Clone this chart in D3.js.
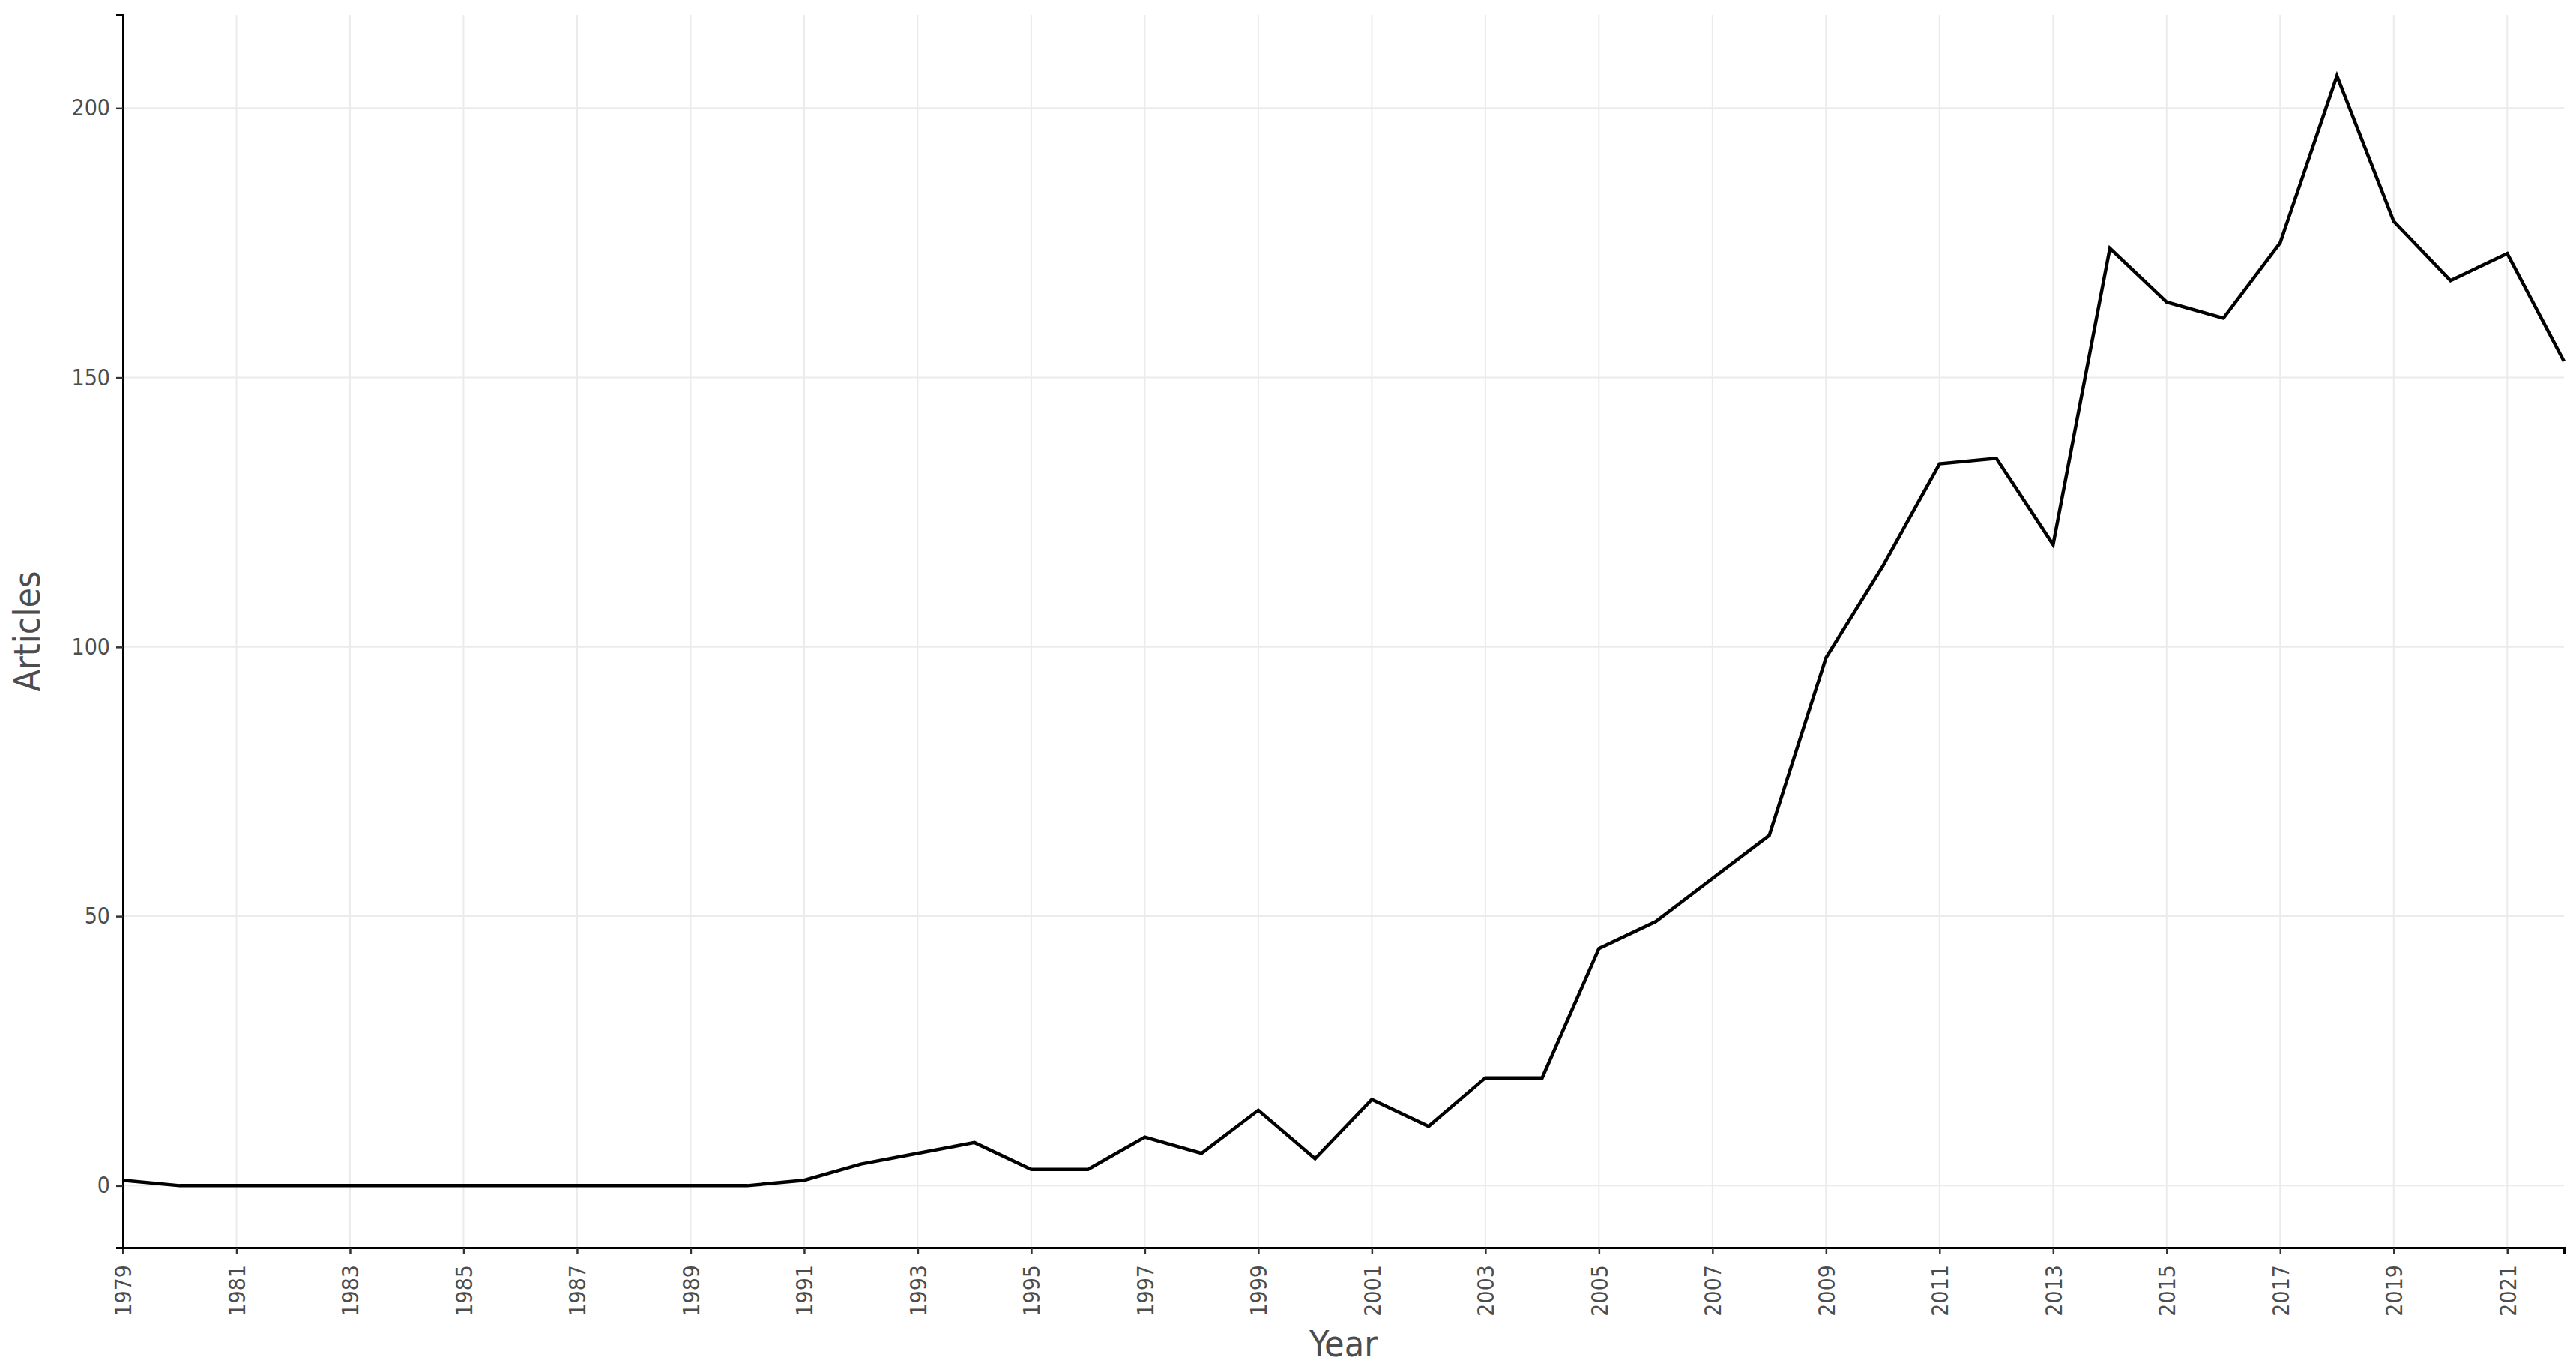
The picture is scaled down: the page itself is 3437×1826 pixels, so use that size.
<!DOCTYPE html>
<html>
<head>
<meta charset="utf-8">
<script src="https://cdn.jsdelivr.net/npm/d3@7"></script>
<style>
  html, body { margin: 0; padding: 0; background: #fff; }
  svg { display: block; }
  text { font-family: "DejaVu Sans Condensed", "DejaVu Sans", sans-serif; font-stretch: condensed; }
</style>
</head>
<body>
<svg id="chart" width="3437" height="1826"></svg>
<script>
const years = [1979,1980,1981,1982,1983,1984,1985,1986,1987,1988,1989,1990,1991,1992,1993,1994,1995,1996,1997,1998,1999,2000,2001,2002,2003,2004,2005,2006,2007,2008,2009,2010,2011,2012,2013,2014,2015,2016,2017,2018,2019,2020,2021,2022];
const articles = [1,0,0,0,0,0,0,0,0,0,0,0,1,4,6,8,3,3,9,6,14,5,16,11,20,20,44,49,57,65,98,115,134,135,119,174,164,161,175,206,179,168,173,153];
const xTickYears = [1979,1981,1983,1985,1987,1989,1991,1993,1995,1997,1999,2001,2003,2005,2007,2009,2011,2013,2015,2017,2019,2021];
const yTickValues = [0,50,100,150,200];
const xTitle = "Year";
const yTitle = "Articles";

const svg = d3.select("#chart");
const plotLeft = 164, plotRight = 3421, plotTop = 20, plotBottom = 1664;

const x = d3.scaleLinear().domain([1979, 2022]).range([plotLeft, plotRight]);
const y = d3.scaleLinear().domain([-11.5, 217.3]).range([plotBottom, plotTop]);

// grid
const grid = svg.append("g");
grid.selectAll("line.v").data(xTickYears).join("line")
  .attr("class", "v")
  .attr("x1", d => x(d)).attr("x2", d => x(d))
  .attr("y1", plotTop).attr("y2", plotBottom)
  .attr("stroke", "#ebebeb").attr("stroke-width", 2);
grid.selectAll("line.h").data(yTickValues).join("line")
  .attr("class", "h")
  .attr("x1", plotLeft).attr("x2", plotRight)
  .attr("y1", d => y(d)).attr("y2", d => y(d))
  .attr("stroke", "#ebebeb").attr("stroke-width", 2);

// line
const line = d3.line().x((d, i) => x(years[i])).y(d => y(d));
svg.append("path").datum(articles)
  .attr("d", line)
  .attr("fill", "none")
  .attr("stroke", "#000")
  .attr("stroke-width", 4.5)
  .attr("stroke-linejoin", "miter");

// x axis
const xAxis = d3.axisBottom(x).tickValues(xTickYears).tickFormat(d3.format("d")).tickSize(9).tickPadding(0);
const gx = svg.append("g").attr("transform", `translate(0,${plotBottom})`).call(xAxis);
gx.select(".domain").attr("stroke", "#000").attr("stroke-width", 3);
gx.selectAll(".tick line").attr("stroke", "#333").attr("stroke-width", 2.5);
gx.selectAll(".tick text")
  .attr("font-size", 30)
  .attr("fill", "#4d4d4d")
  .attr("text-anchor", "end")
  .attr("transform", "rotate(-90)")
  .attr("x", -23)
  .attr("y", 0)
  .attr("dy", "0.36em");

// y axis
const yAxis = d3.axisLeft(y).tickValues(yTickValues).tickSize(9).tickPadding(8);
const gy = svg.append("g").attr("transform", `translate(${plotLeft},0)`).call(yAxis);
gy.select(".domain").attr("stroke", "#000").attr("stroke-width", 3);
gy.selectAll(".tick line").attr("stroke", "#333").attr("stroke-width", 2.5);
gy.selectAll(".tick text").attr("font-size", 30).attr("fill", "#4d4d4d");

// titles
svg.append("text")
  .attr("x", (plotLeft + plotRight) / 2).attr("y", 1809)
  .attr("text-anchor", "middle")
  .attr("font-size", 48).attr("fill", "#4d4d4d")
  .text(xTitle);
svg.append("text")
  .attr("transform", `translate(53,${(plotTop + plotBottom) / 2}) rotate(-90)`)
  .attr("text-anchor", "middle")
  .attr("font-size", 48).attr("fill", "#4d4d4d")
  .text(yTitle);
</script>
</body>
</html>
